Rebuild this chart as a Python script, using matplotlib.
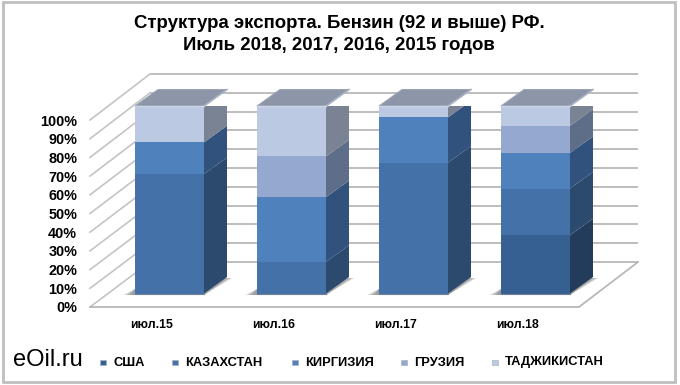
import matplotlib
matplotlib.use('Agg')
import matplotlib.pyplot as plt
from matplotlib.patches import Polygon, Rectangle
import numpy as np

categories = ['июл.15', 'июл.16', 'июл.17', 'июл.18']
series_names = ['США', 'КАЗАХСТАН', 'КИРГИЗИЯ', 'ГРУЗИЯ', 'ТАДЖИКИСТАН']
usa        = [0, 0, 0, 31.1]
kazakhstan = [63.7, 16.9, 69.8, 24.9]
kirgizia   = [16.9, 34.5, 24.1, 19.0]
georgia    = [0, 21.7, 0, 14.5]
tajik      = [19.4, 26.9, 6.1, 10.5]
y_ticks = [0, 10, 20, 30, 40, 50, 60, 70, 80, 90, 100]

front_colors = ['#376092', '#4472a8', '#4f81bd', '#95a9d0', '#bcc9e2']
side_colors = ['#243c5c', '#2c4a6e', '#30527c', '#5e6e88', '#7a8394']
top_color = '#8d96a8'

W, H = 680, 385
plt.rcParams['font.family'] = ['Liberation Sans', 'DejaVu Sans']
fig = plt.figure(figsize=(W/100, H/100), dpi=100, facecolor='white')

def rect(x0, x1, ytop, ybot):
    return [x0/W, 1-ybot/H, (x1-x0)/W, (ybot-ytop)/H]

# px layout
bar_cx0, bar_step, bar_w = 169.5, 122.0, 69.0
bar_bot, bar_top = 293.5, 106.0
x_unit = bar_step
xl_px, xr_px = 100.0, 630.0
xlim = ((xl_px-bar_cx0)/x_unit, (xr_px-bar_cx0)/x_unit)
ax = fig.add_axes(rect(xl_px, xr_px, bar_top, bar_bot), zorder=2)
ax.set_xlim(*xlim); ax.set_ylim(0, 100); ax.axis('off')

# front-of-floor plane, carries the tick labels
ax2 = fig.add_axes(rect(xl_px-18, xr_px-18, 120, 307), zorder=1)
ax2.set_xlim(*xlim); ax2.set_ylim(0, 100)
ax2.patch.set_alpha(0)
for s in ax2.spines.values():
    s.set_visible(False)
ax2.set_yticks(y_ticks, [f'{v}%' for v in y_ticks], fontsize=10.4, fontweight='bold')
ax2.set_xticks(range(4), categories, fontsize=8.8, fontweight='bold')
ax2.tick_params(length=0)
ax2.tick_params(axis='y', pad=3.5)
ax2.tick_params(axis='x', pad=9)

px_x = 1/x_unit
px_y = 100/(bar_bot-bar_top)
def X(px): return (px-bar_cx0)*px_x
def Y(py): return (bar_bot-py)*px_y

# walls and floor
grid = '#b8b8b8'
bk0 = 262.0; bk100 = 74.0
for v in y_ticks:
    yb = bk0 + (bk100-bk0)*v/100
    yf = 307 + (120-307)*v/100
    ax.plot([X(150), X(638)], [Y(yb), Y(yb)], color=grid, lw=1.3, clip_on=False, zorder=1, solid_capstyle='butt')
    ax.plot([X(90), X(150)], [Y(yf), Y(yb)], color='#c4c4c4', lw=1.2, clip_on=False, zorder=1)
ax.plot([X(90), X(579), X(638)], [Y(307), Y(307), Y(262)], color=grid, lw=1.3, clip_on=False, zorder=1)

# bars
depth_x = 23*px_x
depth_y = 16.5*px_y
half = bar_w/2*px_x
all_vals = np.array([usa, kazakhstan, kirgizia, georgia, tajik])
xs = np.arange(len(categories))

# floor shadows: layered, growing outward to imitate blur
for x in xs:
    xl = x-half; xr = x+half
    for i in range(6):
        g = (5-i)
        ax.add_patch(Polygon([(xl-(4+g*1.6)*px_x, Y(295)),
                              (xr, Y(295)),
                              (xr+(22+g*1.3)*px_x, Y(278)),
                              (xr+(6)*px_x, Y(278)),
                              (xl, Y(289))],
                             closed=True, fc='#707070', ec='none', alpha=0.17, zorder=2, clip_on=False))

bottom = np.zeros(4)
for vals, fc, sc in zip(all_vals, front_colors, side_colors):
    ax.bar(xs, vals, width=bar_w*px_x, bottom=bottom, color=fc, edgecolor='none', zorder=4)
    for x, b, v in zip(xs, bottom, vals):
        if v <= 0:
            continue
        xr = x+half
        ax.add_patch(Polygon([(xr, b), (xr, b+v), (xr+depth_x, b+v+depth_y), (xr+depth_x, b+depth_y)],
                             closed=True, fc=sc, ec='none', zorder=3))
    bottom = bottom + np.array(vals)

for x in xs:
    xl, xr = x-half, x+half
    ax.add_patch(Polygon([(xl, 100), (xr, 100), (xr+depth_x, 100+depth_y), (xl+depth_x, 100+depth_y)],
                         closed=True, fc=top_color, ec='#9aa3b3', lw=0.7, zorder=5, clip_on=False))
    ax.plot([xr, xr+depth_x], [100, 100+depth_y], color='#a9b2c2', lw=1.2, zorder=6, clip_on=False)
    ax.plot([xl, xr], [100, 100], color='#cfd7e6', lw=1.0, zorder=6, clip_on=False)
    ax.plot([xl, xr], [0, 0], color='#6e7f96', lw=0.8, zorder=6, clip_on=False)

# frame + page
page = fig.add_axes([0, 0, 1, 1], zorder=0)
page.set_xlim(0, W); page.set_ylim(H, 0); page.axis('off')
page.add_patch(Rectangle((3, 1.5), 671.5, 380, fc='white', ec='#bfbfbf', lw=2))

fig.text(339/W, 1-24/H, 'Структура экспорта. Бензин (92 и выше) РФ.', ha='center', va='center',
         fontsize=13.4, fontweight='bold')
fig.text(339/W, 1-45/H, 'Июль 2018, 2017, 2016, 2015 годов', ha='center', va='center',
         fontsize=13.4, fontweight='bold')
fig.text(13/W, 1-360/H, 'eOil.ru', ha='left', va='center', fontsize=17)

# legend
leg_x = [100, 172, 292, 401, 492]
leg = fig.add_axes([0, 0, 1, 1], zorder=3)
leg.set_xlim(0, W); leg.set_ylim(H, 0); leg.axis('off'); leg.patch.set_alpha(0)
for xp, name, c in zip(leg_x, series_names, front_colors):
    leg.add_patch(Rectangle((xp, 359.5), 5.5, 5.5, fc=c, ec='#aab2c0', lw=0.5))
    leg.text(xp+13, 362.5, name, ha='left', va='center', fontsize=9.3, fontweight='bold')

fig.savefig('out.png', dpi=100)
